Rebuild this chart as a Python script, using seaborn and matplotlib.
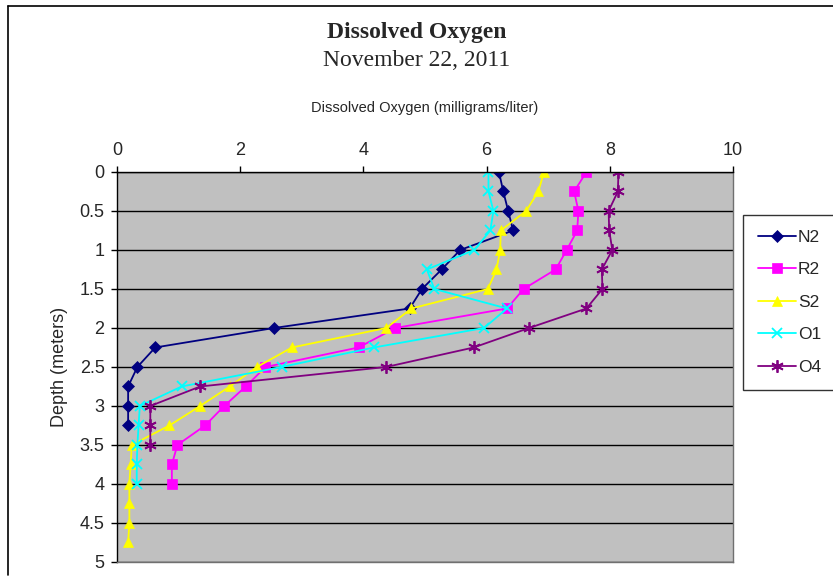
import matplotlib
matplotlib.use("Agg")
import matplotlib.pyplot as plt
import seaborn as sns
import pandas as pd
from matplotlib.lines import Line2D

# depths in meters, one reading every 0.25 m
depths = [0, 0.25, 0.5, 0.75, 1, 1.25, 1.5, 1.75, 2, 2.25, 2.5, 2.75, 3, 3.25,
          3.5, 3.75, 4, 4.25, 4.5, 4.75]

n2 = [6.2, 6.27, 6.35, 6.43, 5.57, 5.27, 4.95, 4.75, 2.55, 0.62, 0.33, 0.18, 0.18, 0.18]
r2 = [7.62, 7.42, 7.49, 7.47, 7.3, 7.12, 6.6, 6.33, 4.52, 3.92, 2.41, 2.09, 1.74, 1.43,
      0.98, 0.89, 0.89]
s2 = [6.93, 6.84, 6.64, 6.23, 6.22, 6.16, 6.02, 4.78, 4.37, 2.84, 2.27, 1.83, 1.35, 0.85,
      0.24, 0.22, 0.2, 0.2, 0.2, 0.18]
o1 = [6.03, 6.03, 6.11, 6.06, 5.8, 5.03, 5.15, 6.33, 5.96, 4.17, 2.67, 1.05, 0.37, 0.35,
      0.33, 0.32, 0.32]
o4 = [8.14, 8.13, 7.98, 7.99, 8.04, 7.87, 7.88, 7.62, 6.69, 5.79, 4.37, 1.35, 0.54, 0.54,
      0.54]

sites = ["N2", "R2", "S2", "O1", "O4"]
values = [n2, r2, s2, o1, o4]
colors = {"N2": "#000080", "R2": "#FF00FF", "S2": "#FFFF00", "O1": "#00FFFF", "O4": "#800080"}
markers = {"N2": "D", "R2": "s", "S2": "^", "O1": "x", "O4": (6, 2, 0)}
msizes = {"N2": 6, "R2": 7, "S2": 7, "O1": 7, "O4": 9}

rows = []
for site, vals in zip(sites, values):
    for d, v in zip(depths, vals):
        rows.append({"site": site, "depth": d, "do": v})
df = pd.DataFrame(rows)

sns.set_style("white")
plt.rcParams["font.family"] = ["Liberation Sans", "DejaVu Sans"]

fig = plt.figure(figsize=(8.33, 5.82), dpi=100)
ax = fig.add_axes([0.1405, 0.0344, 0.7395, 0.6701])
ax.set_facecolor("#C0C0C0")

for site in sites:
    sub = df[df["site"] == site]
    sns.lineplot(data=sub, x="do", y="depth", sort=False, estimator=None,
                 color=colors[site], marker=markers[site], markersize=msizes[site],
                 markeredgecolor=colors[site], markeredgewidth=1.3 if site in ("O1", "O4") else 0.5,
                 linewidth=1.3, label=site, ax=ax)

ax.set_xlim(0, 10)
ax.set_ylim(5, 0)
ax.set_xticks([0, 2, 4, 6, 8, 10])
ax.set_yticks([0, 0.5, 1, 1.5, 2, 2.5, 3, 3.5, 4, 4.5, 5])
ax.set_yticklabels(["0", "0.5", "1", "1.5", "2", "2.5", "3", "3.5", "4", "4.5", "5"])
ax.xaxis.tick_top()
ax.xaxis.set_label_position("top")
ax.tick_params(axis="both", labelsize=13, direction="out", length=4, width=1,
               color="black", pad=5)
ax.tick_params(axis="x", top=True, bottom=False)
ax.tick_params(axis="y", left=True)
ax.grid(axis="y", color="black", linewidth=1)
ax.grid(axis="x", visible=False)
ax.set_axisbelow(True)
ax.spines["left"].set_color("black")
ax.spines["top"].set_color("black")
ax.spines["right"].set_color("#707070")
ax.spines["bottom"].set_color("#707070")
for side in ax.spines:
    ax.spines[side].set_linewidth(1)

ax.set_xlabel("Dissolved Oxygen (milligrams/liter)", fontsize=10.5, labelpad=22)
ax.set_ylabel("Depth (meters)", fontsize=13, labelpad=8)

fig.text(0.5, 0.944, "Dissolved Oxygen", ha="center", va="center", fontsize=17,
         fontweight="bold", family="Liberation Serif")
fig.text(0.5, 0.896, "November 22, 2011", ha="center", va="center", fontsize=17,
         family="Liberation Serif")

ax.legend(loc="upper left", bbox_to_anchor=(0.892, 0.6306), bbox_transform=fig.transFigure,
          borderaxespad=0, fancybox=False, edgecolor="black", frameon=True,
          fontsize=12.5, labelspacing=1.0, handlelength=2.2, borderpad=0.85,
          handletextpad=0.1)
ax.get_legend().get_frame().set_linewidth(1)

# chart border (only top and left edges show in the picture)
fig.add_artist(Line2D([0.0096, 0.0096], [0.012, 0.990], transform=fig.transFigure,
                      color="black", linewidth=1.2))
fig.add_artist(Line2D([0.0096, 1.0], [0.990, 0.990], transform=fig.transFigure,
                      color="black", linewidth=1.2))

fig.savefig("out.png", dpi=100)
